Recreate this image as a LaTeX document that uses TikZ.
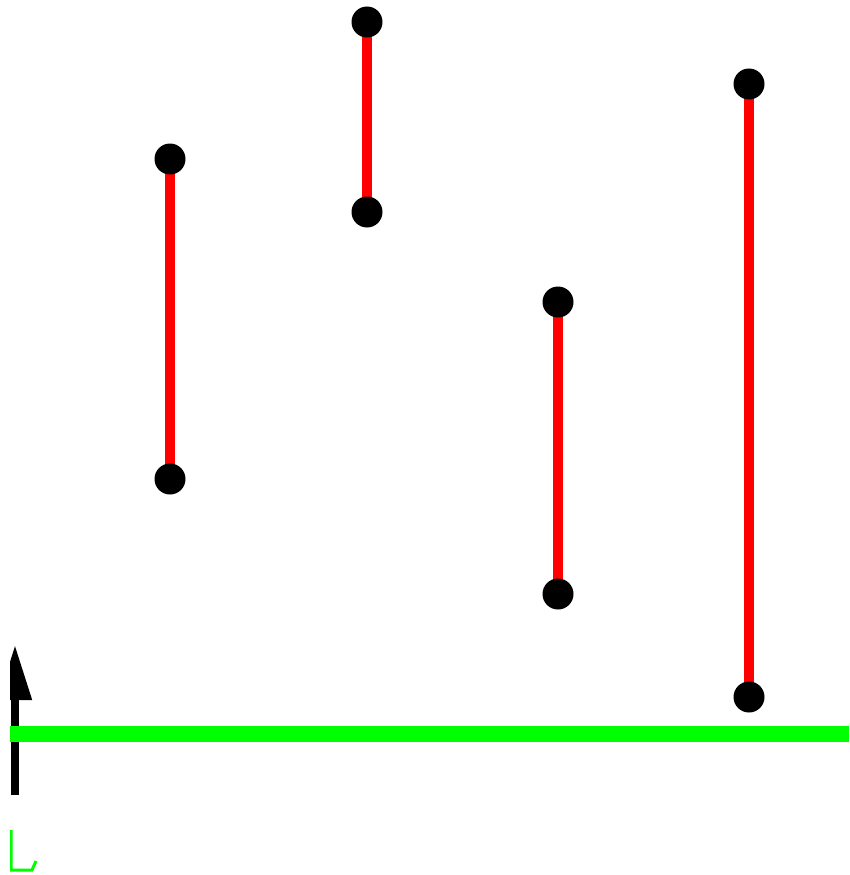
\documentclass[tikz,border=0pt]{standalone}
\usetikzlibrary{arrows.meta}
\begin{document}
\begin{tikzpicture}[x=1pt,y=-1pt,
  dot/.style={circle,fill=black,inner sep=0pt,minimum size=31pt},
  seg/.style={draw=red,line width=10pt},
  ground/.style={draw=green,line width=16pt},
  axis/.style={draw=black,line width=8pt,-{Triangle[length=55pt,width=32pt]}},
  glyphline/.style={draw=green,line width=3pt}]
\useasboundingbox (0,0) rectangle (849,875);
\clip (10,0) rectangle (849,875);
\coordinate (ab) at (15,795);
\coordinate (at) at (15,645);
\draw[axis] (ab) -- (at);
\coordinate (gl) at (0,734);
\coordinate (gr) at (849,734);
\draw[ground] (gl) -- (gr);
\coordinate (pa1) at (170,159);
\coordinate (pa2) at (170,479);
\coordinate (pb1) at (367,22);
\coordinate (pb2) at (367,212);
\coordinate (pc1) at (558,302);
\coordinate (pc2) at (558,594);
\coordinate (pd1) at (749,84);
\coordinate (pd2) at (749,697);
\draw[seg] (pa1) -- (pa2);
\draw[seg] (pb1) -- (pb2);
\draw[seg] (pc1) -- (pc2);
\draw[seg] (pd1) -- (pd2);
\node[dot] (a1) at (pa1) {};
\node[dot] (a2) at (pa2) {};
\node[dot] (b1) at (pb1) {};
\node[dot] (b2) at (pb2) {};
\node[dot] (c1) at (pc1) {};
\node[dot] (c2) at (pc2) {};
\node[dot] (d1) at (pd1) {};
\node[dot] (d2) at (pd2) {};
\coordinate (m1) at (11,830);
\coordinate (m2) at (11,870);
\coordinate (m3) at (32,870);
\coordinate (m4) at (36,861);
\draw[glyphline] (m1) -- (m2) -- (m3) -- (m4);
\end{tikzpicture}
\end{document}
